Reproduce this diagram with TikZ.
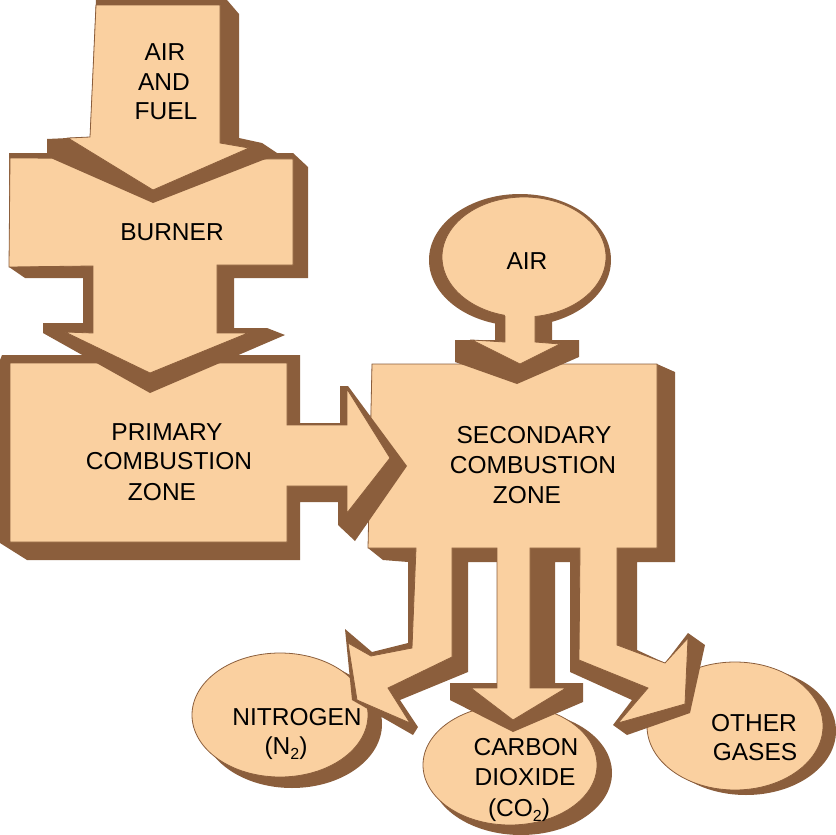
\documentclass[tikz,border=0pt]{standalone}
\usepackage{fontspec}
\setmainfont{Liberation Sans}
\definecolor{peach}{RGB}{250,208,160}
\definecolor{shade}{RGB}{139,94,60}
\newcommand{\lowtwo}{\raisebox{-5pt}{\fontsize{16}{16}\selectfont 2}}
\tikzset{
  front/.style={fill=peach, draw=shade, line width=0.8pt, line join=miter},
  back/.style={fill=shade},
  edge/.style={draw=shade, line width=0.8pt},
  lbl/.style={anchor=base, inner sep=0pt, font=\fontsize{24.5}{29.5}\selectfont, text=black}
}
\begin{document}
\begin{tikzpicture}[x=1pt,y=-1pt]
\useasboundingbox (0,0) rectangle (836,835);

% ---- output ellipses ----
\fill[back] (292,724) ellipse [x radius=90, y radius=64];
\draw[front] (280,715) ellipse [x radius=88, y radius=62];
\fill[back] (521,773) ellipse [x radius=91, y radius=62];
\draw[front] (510,765) ellipse [x radius=87, y radius=60];
\fill[back] (746,731) ellipse [x radius=90, y radius=64];
\draw[front] (735,726) ellipse [x radius=88, y radius=64];

% ---- secondary combustion zone ----
\fill[back] (368,548) -- (383,560) -- (408,562) -- (408,643) -- (372,652) -- (345,629)
  -- (352,700) -- (413,735) -- (418,727) -- (400,700) -- (468,672) -- (468,562)
  -- (497,562) -- (497,683) -- (450,683) -- (450,700) -- (513,732) -- (583,702)
  -- (583,683) -- (555,683) -- (555,562) -- (570,562) -- (570,672)
  -- (632,700) -- (613,725) -- (627,735) -- (690,713) -- (705,645) -- (688,633)
  -- (665,663) -- (637,650) -- (637,562) -- (675,562) -- (675,372) -- (657,364)
  -- (372,364) -- cycle;
\draw[front] (372,364) -- (657,364) -- (657,548) -- (617,548) -- (617,645) -- (665,663)
  -- (688,638) -- (685,704) -- (618,723) -- (648,688) -- (579,660) -- (580,548)
  -- (530,548) -- (530,688) -- (566,688) -- (513,720) -- (471,688) -- (497,688)
  -- (497,548) -- (452,548) -- (452,657) -- (388,688) -- (410,723) -- (357,700)
  -- (348,643) -- (371,656) -- (412,648) -- (416,548) -- (368,548) -- cycle;

% ---- air source ----
\fill[back] (520,260) ellipse [x radius=91, y radius=66];
\fill[back] (495,300) -- (495,340) -- (455,340) -- (455,362) -- (517,384) -- (579,357)
  -- (579,340) -- (552,340) -- (552,300) -- cycle;
\draw[front] (524,257) ellipse [x radius=82, y radius=60];
\fill[peach] (505,300) -- (505,342) -- (472,340) -- (520,364) -- (560,344) -- (535,342)
  -- (535,300) -- cycle;
\draw[edge] (505,316) -- (505,342) -- (472,340) -- (520,364) -- (560,344) -- (535,342)
  -- (535,316);

% ---- primary combustion zone ----
\fill[back] (2,355) -- (300,355) -- (300,423) -- (340,423) -- (340,386) -- (348,386)
  -- (407,466) -- (355,541) -- (338,525) -- (338,502) -- (300,502) -- (300,560)
  -- (27,560) -- (0,543) -- (0,360) -- cycle;
\draw[front] (10,363) -- (287,363) -- (287,425) -- (347,425) -- (347,389) -- (390,458)
  -- (347,513) -- (347,486) -- (287,486) -- (287,542) -- (10,542) -- cycle;

% ---- burner ----
\fill[back] (9,153) -- (293,153) -- (308,167) -- (308,278) -- (234,278) -- (234,328)
  -- (267,328) -- (285,335) -- (150,393) -- (43,333) -- (43,323) -- (83,323)
  -- (83,278) -- (25,278) -- (9,267) -- cycle;
\draw[front] (10,158) -- (293,159) -- (293,265) -- (217,265) -- (217,333) -- (248,333)
  -- (150,373) -- (65,332) -- (93,333) -- (93,266) -- (9,267) -- cycle;

% ---- air and fuel arrow ----
\fill[back] (96,0) -- (227,0) -- (239,14) -- (239,138) -- (262,143) -- (280,155)
  -- (263,160) -- (153,203) -- (53,159) -- (47,153) -- (47,139) -- (90,137) -- cycle;
\draw[front] (96,5) -- (220,5) -- (220,143) -- (249,148) -- (153,190) -- (68,138)
  -- (90,137) -- cycle;

% ---- labels ----
\node[lbl] (t1a) at (165,60) {AIR};
\node[lbl] (t1b) at (164,90) {AND};
\node[lbl] (t1c) at (166,119) {FUEL};
\node[lbl] (t2) at (172,240) {BURNER};
\node[lbl] (t3a) at (167,440) {PRIMARY};
\node[lbl] (t3b) at (169,469.5) {COMBUSTION};
\node[lbl] (t3c) at (162,500) {ZONE};
\node[lbl] (t4) at (527,269) {AIR};
\node[lbl] (t5a) at (534,443) {SECONDARY};
\node[lbl] (t5b) at (533,473) {COMBUSTION};
\node[lbl] (t5c) at (527,503) {ZONE};
\node[lbl] (t6a) at (297,725) {NITROGEN};
\node[lbl] (t6b) at (286,754) {(N\lowtwo)};
\node[lbl] (t7a) at (526,755) {CARBON};
\node[lbl] (t7b) at (525,785.5) {DIOXIDE};
\node[lbl] (t7c) at (519,816) {(CO\lowtwo)};
\node[lbl] (t8a) at (754,731) {OTHER};
\node[lbl] (t8b) at (755,760) {GASES};
\end{tikzpicture}
\end{document}
